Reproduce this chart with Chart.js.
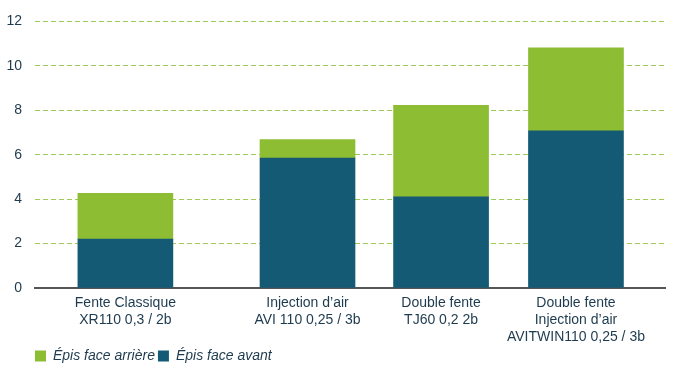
<!DOCTYPE html>
<html>
<head>
<meta charset="utf-8">
<script src="https://cdn.jsdelivr.net/npm/chart.js@4"></script>
<style>
  html, body { margin: 0; padding: 0; background: #fff; }
  #wrap { width: 680px; height: 370px; }
</style>
</head>
<body>
<div id="wrap"><canvas id="chart"></canvas></div>
<script>
// categories (each line of the label is one array entry)
const categories = [
  ["Fente Classique", "XR110 0,3 / 2b"],
  ["Injection d\u2019air", "AVI 110 0,25 / 3b"],
  ["Double fente", "TJ60 0,2 2b"],
  ["Double fente", "Injection d\u2019air", "AVITWIN110 0,25 / 3b"]
];
// slot of each bar on the x axis (the first group sits apart in the original)
const slots = [0.67, 2.02, 3.01, 4.01];

const faceAvant = [2.2, 5.85, 4.1, 7.08];
const faceArriere = [2.06, 0.83, 4.12, 3.73];

const yTicks = [0, 2, 4, 6, 8, 10, 12];

const navy = "#145a74";
const green = "#8dbd33";
const textColor = "#1d3a4e";

Chart.defaults.font.family = "'Liberation Sans', Arial, sans-serif";
Chart.defaults.font.size = 14;
Chart.defaults.color = textColor;

// line the legend up with the plot's left edge
const legendShift = {
  id: "legendShift",
  afterLayout(chart) {
    chart.legend.left += 26;
    chart.legend.right += 26;
  }
};

new Chart(document.getElementById("chart"), {
  type: "bar",
  data: {
    datasets: [
      {
        label: "\u00c9pis face avant",
        data: slots.map((x, i) => ({ x: x, y: faceAvant[i] })),
        backgroundColor: navy,
        barThickness: 95
      },
      {
        label: "\u00c9pis face arri\u00e8re",
        data: slots.map((x, i) => ({ x: x, y: faceArriere[i] })),
        backgroundColor: green,
        barThickness: 95
      }
    ]
  },
  options: {
    responsive: true,
    maintainAspectRatio: false,
    animation: false,
    layout: { padding: { top: 8, right: 15, left: 6, bottom: -3 } },
    plugins: {
      tooltip: { enabled: false },
      legend: {
        position: "bottom",
        align: "start",
        reverse: true,
        labels: {
          boxWidth: 11,
          boxHeight: 11,
          padding: 3,
          font: { style: "italic", size: 14 }
        }
      }
    },
    scales: {
      x: {
        type: "linear",
        stacked: true,
        min: 0,
        max: 4.67,
        offset: false,
        afterBuildTicks: (scale) => {
          scale.ticks = slots.map(v => ({ value: v }));
        },
        afterFit: (scale) => { scale.height = 58; },
        ticks: {
          autoSkip: false,
          maxRotation: 0,
          padding: 7,
          font: { lineHeight: 1.2 },
          callback: (value, index) => categories[index]
        },
        grid: { display: false, drawTicks: false },
        border: { display: true, color: "#555555", width: 2 }
      },
      y: {
        stacked: true,
        min: 0,
        max: 12,
        afterBuildTicks: (scale) => {
          scale.ticks = yTicks.map(v => ({ value: v }));
        },
        afterFit: (scale) => { scale.width = 29; },
        ticks: { padding: 13 },
        grid: {
          color: "#9ccc55",
          lineWidth: 1,
          drawTicks: false
        },
        border: { display: false, dash: [5, 3] }
      }
    }
  },
  plugins: [legendShift]
});
</script>
</body>
</html>
